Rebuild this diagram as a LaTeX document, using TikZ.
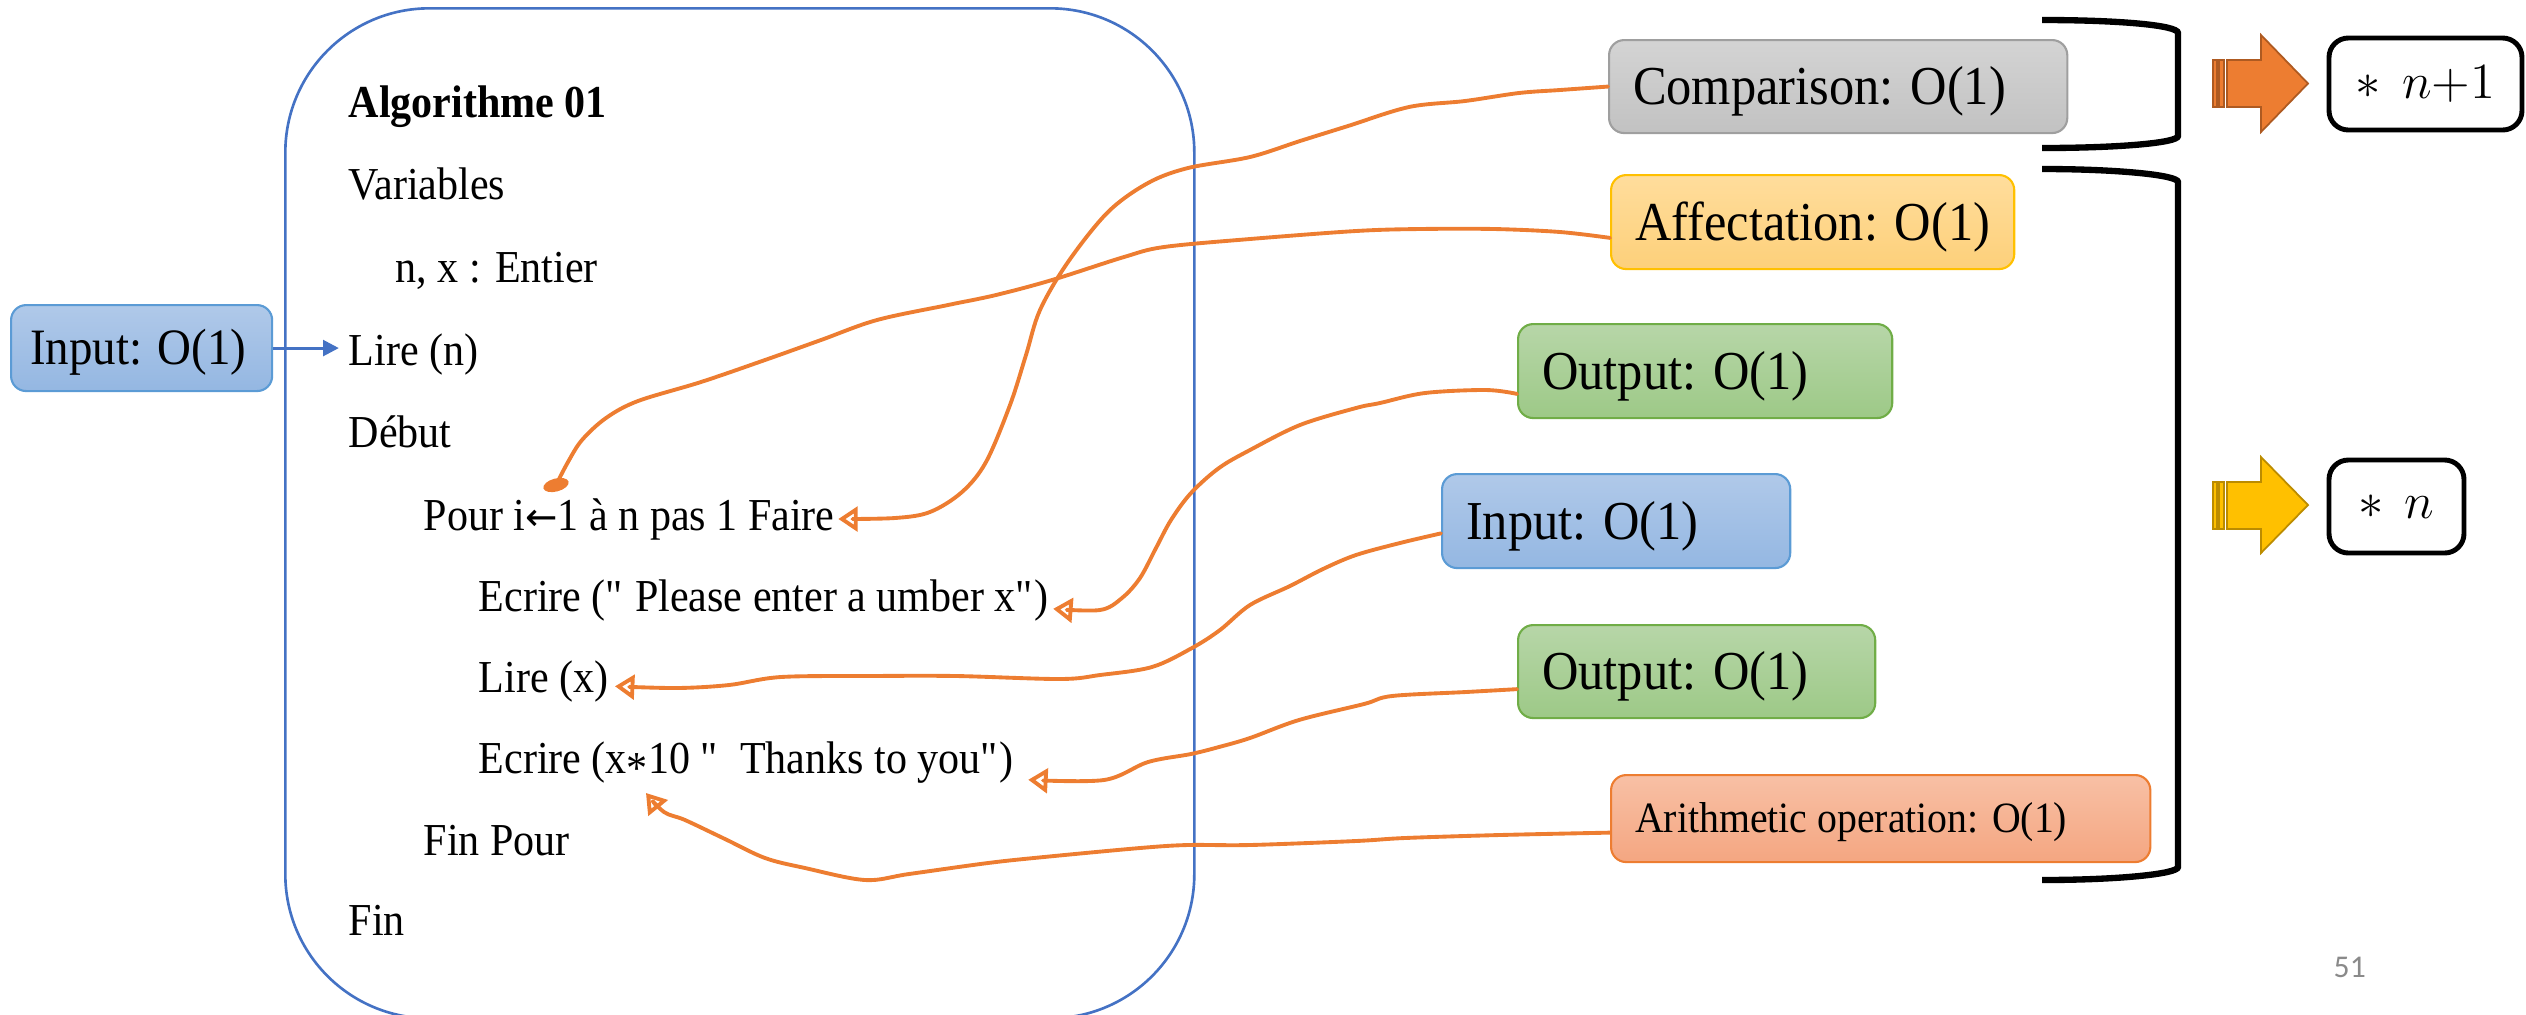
\documentclass[tikz,border=0pt]{standalone}
\usepackage{fontspec}
\setmainfont{Liberation Serif}[FakeStretch=0.92]
\newfontfamily\pagenumfont{Carlito}
\newfontfamily\arrowfont{DejaVu Sans}
\usetikzlibrary{arrows.meta,calc,shapes.geometric}
\newdimen\pxu \pxu=0.01cm
\newcommand{\dq}{\textquotedbl}
\newcommand{\assign}{{\arrowfont\fontsize{11}{13}\selectfont ←}}
\definecolor{algoblue}{HTML}{4472C4}
\definecolor{accent}{HTML}{ED7D31}
\definecolor{accentdark}{HTML}{AE5A21}
\definecolor{gold}{HTML}{FFC000}
\definecolor{golddark}{HTML}{BC8C00}
\definecolor{pagegray}{HTML}{8A8A8A}
\begin{document}
\begin{tikzpicture}[x=0.01cm,y=-0.01cm,
  code/.style={anchor=base west, inner sep=0pt, font=\fontsize{13}{15}\selectfont},
  lbl/.style={anchor=north west, rounded corners=4.3pt, line width=0.6pt,
    inner xsep=24\pxu, inner ysep=0pt, text height=10.2pt, text depth=0pt,
    font=\fontsize{15.6}{18}\selectfont},
  graybox/.style={draw=gray!75, top color=black!17, bottom color=black!24},
  yellowbox/.style={draw=gold, top color={rgb,255:red,255;green,221;blue,156}, bottom color={rgb,255:red,253;green,208;blue,122}},
  greenbox/.style={draw={rgb,255:red,112;green,173;blue,71}, top color={rgb,255:red,183;green,214;blue,168}, bottom color={rgb,255:red,157;green,201;blue,135}},
  bluebox/.style={draw={rgb,255:red,91;green,155;blue,213}, top color={rgb,255:red,176;green,201;blue,233}, bottom color={rgb,255:red,148;green,183;blue,226}},
  salmonbox/.style={draw=accent, top color={rgb,255:red,248;green,192;blue,165}, bottom color={rgb,255:red,244;green,166;blue,129}},
  res/.style={draw=black, line width=1.4pt, rounded corners=5.5pt, inner sep=0pt,
    font=\fontsize{15.5}{18}\selectfont},
  conn/.style={draw=accent, line width=1.1pt, line cap=round, line join=round},
  tip/.style={-{Triangle[open, length=5.5pt, width=7pt]}},
  bracket/.style={draw=black, line width=1.8pt},
]
\useasboundingbox (0,0) rectangle (2526,1014);

% algorithm frame
\node[draw=algoblue, line width=0.75pt, rounded corners=41pt, inner sep=0pt,
  minimum width=909\pxu, minimum height=1010\pxu, anchor=north west] (algo) at (284,7) {};

% algorithm text
\node[code, font=\bfseries\fontsize{13}{15}\selectfont] (title) at (348,117) {Algorithme 01};
\node[code] (vars)  at (348,199) {Variables};
\node[code] (decl)  at (395,282) {n, x : Entier};
\node[code] (liren) at (348,365) {Lire (n)};
\node[code] (debut) at (348,447) {Début};
\node[code] (pour)  at (423,530) {Pour i\assign1 à n pas 1 Faire};
\node[code] (ecr1)  at (478,611) {Ecrire (\dq{} Please enter a umber x\dq)};
\node[code] (lirex) at (478,692) {Lire (x)};
\node[code] (ecr2)  at (478,773) {Ecrire (x\raisebox{-0.22em}{*}10 \dq\ \ Thanks to you\dq)};
\node[code] (finp)  at (423,855) {Fin Pour};
\node[code] (fin)   at (348,935) {Fin};

% cost labels
\node[lbl, bluebox, inner xsep=19\pxu, minimum height=86\pxu, text height=9.5pt,
  font=\fontsize{14.5}{17}\selectfont] (inL) at (10,304) {\makebox[2.23cm][l]{Input: O(1)}};
\node[lbl, graybox,   minimum height=93\pxu] (cmp)  at (1608,39)  {\makebox[4.10cm][l]{Comparison: O(1)}};
\node[lbl, yellowbox, minimum height=94\pxu] (aff)  at (1610,174) {\makebox[3.55cm][l]{Affectation: O(1)}};
\node[lbl, greenbox,  minimum height=94\pxu] (out1) at (1517,323) {\makebox[3.26cm][l]{Output: O(1)}};
\node[lbl, bluebox,   minimum height=94\pxu] (in2)  at (1441,473) {\makebox[3.00cm][l]{Input: O(1)}};
\node[lbl, greenbox,  minimum height=93\pxu] (out2) at (1517,624) {\makebox[3.09cm][l]{Output: O(1)}};
\node[lbl, salmonbox, minimum height=87\pxu, text height=8pt,
  font=\fontsize{12.3}{14}\selectfont] (arith) at (1610,774) {\makebox[4.91cm][l]{Arithmetic operation: O(1)}};

% input arrow
\draw[algoblue, line width=0.85pt, -{Triangle[length=4.5pt, width=4.5pt]}, shorten >=2.6pt]
  (inL.east) -- (inL.east -| liren.west);

% connector end points
\node[fill=accent, ellipse, minimum width=26\pxu, minimum height=13\pxu, inner sep=0pt, rotate=15] (dot) at (556,485) {};
\coordinate (star) at ($(ecr2.base west)+(168,20)$);

% freehand connectors
\draw[conn, tip] plot[smooth, tension=0.55] coordinates {(cmp.west) (1560,90) (1519,93) (1465,101) (1409,107) (1348,126) (1300,141) (1250,157) (1188,168) (1148,183) (1108,212) (1068,262) (1040,310) (1026,355) (1010,405) (986,462) (962,492) (930,512) (895,518) ([xshift=3\pxu]pour.east)};
\draw[conn] plot[smooth, tension=0.55] coordinates {([yshift=-4.5pt]aff.west) (1560,232) (1494,229) (1420,229) (1356,231) (1250,239) (1164,247) (1124,257) (1052,280) (996,295) (948,305) (877,320) (821,340) (765,360) (701,382) (638,401) (606,418) (582,440) (568,462) (dot.center)};
\draw[conn, tip] plot[smooth, tension=0.55] coordinates {([yshift=-6.5pt]out1.west) (1486,390) (1425,393) (1380,403) (1356,408) (1300,425) (1250,450) (1219,468) (1191,493) (1171,520) (1156,548) (1140,578) (1122,598) (1100,610) ([xshift=4\pxu, yshift=-2.5pt]ecr1.east)};
\draw[conn, tip] plot[smooth, tension=0.55] coordinates {([yshift=-3.5pt]in2.west) (1400,543) (1356,555) (1323,569) (1290,586) (1250,605) (1220,630) (1192,648) (1152,667) (1100,675) (1060,679) (956,676) (870,676) (781,677) (729,685) (677,688) ([xshift=6\pxu, yshift=-1.5pt]lirex.east)};
\draw[conn, tip] plot[smooth, tension=0.55] coordinates {([yshift=-5pt]out2.west) (1466,692) (1392,696) (1364,704) (1299,720) (1250,738) (1219,747) (1191,754) (1148,762) (1104,780) ([xshift=14\pxu, yshift=-5pt]ecr2.east)};
\draw[conn, tip] plot[smooth, tension=0.55] coordinates {([yshift=-4pt]arith.west) (1500,835) (1405,838) (1356,841) (1250,845) (1188,845) (1140,848) (1044,857) (988,863) (909,874) (865,880) (805,868) (765,858) (725,839) (685,820) (664,812) (star)};

% brackets grouping the costs
\draw[bracket] (2042,20) .. controls (2117,20) and (2178,25) .. (2178,33)
  -- (2178,136) .. controls (2178,143) and (2117,148) .. (2042,148);
\draw[bracket] (2042,169) .. controls (2117,169) and (2178,175) .. (2178,182)
  -- (2178,867) .. controls (2178,874) and (2117,880) .. (2042,880);

% striped block arrows
\filldraw[fill=accent, draw=accentdark, line width=0.5pt]
  (2227,60) -- (2261,60) -- (2261,35) -- (2308,83.5) -- (2261,132) -- (2261,107) -- (2227,107) -- cycle;
\filldraw[fill=accent, draw=accentdark, line width=0.5pt] (2213,60) rectangle (2217,107);
\filldraw[fill=accent, draw=accentdark, line width=0.5pt] (2219,60) rectangle (2224,107);
\filldraw[fill=gold, draw=golddark, line width=0.5pt]
  (2227,482) -- (2261,482) -- (2261,457) -- (2308,505) -- (2261,553) -- (2261,529) -- (2227,529) -- cycle;
\filldraw[fill=gold, draw=golddark, line width=0.5pt] (2213,482) rectangle (2217,529);
\filldraw[fill=gold, draw=golddark, line width=0.5pt] (2219,482) rectangle (2224,529);

% resulting factors
\node[res, minimum width=193\pxu, minimum height=92\pxu] (rA) at (2425.5,84) {$\ast\ \,n{+}1$};
\node[res, minimum width=135\pxu, minimum height=93\pxu] (rB) at (2396.5,506.5) {$\ast\ \,n$};

% page number
\node[anchor=base west, inner sep=0pt, text=pagegray, font=\pagenumfont\fontsize{9}{10}\selectfont] (pg) at (2333,977) {51};
\end{tikzpicture}
\end{document}
